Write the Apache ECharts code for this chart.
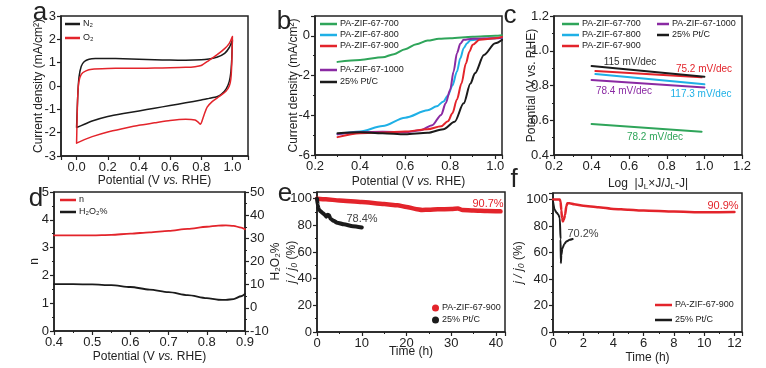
<!DOCTYPE html>
<html><head><meta charset="utf-8">
<script src="https://cdn.jsdelivr.net/npm/echarts@6/dist/echarts.min.js"></script>
<style>html,body{margin:0;padding:0;background:#fff}#c{width:766px;height:368px}</style>
</head><body><div id="c"></div>
<script>
// ---------- data ----------
// (a) cyclic voltammetry loops [potential V, current mA/cm2]
const cvN2 = [[0.0,-1.78],[0.004,-1.0],[0.009,-0.2],[0.016,0.4],[0.03,0.85],[0.05,1.05],[0.08,1.15],[0.12,1.18],[0.2,1.18],[0.3,1.17],[0.4,1.15],[0.5,1.13],[0.6,1.11],[0.7,1.1],[0.8,1.12],[0.85,1.16],[0.9,1.23],[0.95,1.4],[0.98,1.65],[1.0,1.97],
  [0.996,1.2],[0.99,0.6],[0.98,0.2],[0.96,-0.12],[0.93,-0.35],[0.9,-0.46],[0.85,-0.53],[0.8,-0.6],[0.7,-0.72],[0.6,-0.84],[0.5,-0.95],[0.4,-1.07],[0.3,-1.18],[0.2,-1.31],[0.1,-1.5],[0.05,-1.64],[0.0,-1.78]];
const cvO2 = [[0.0,-2.45],[0.003,-1.5],[0.007,-0.5],[0.014,0.15],[0.03,0.5],[0.06,0.65],[0.1,0.72],[0.2,0.75],[0.3,0.76],[0.4,0.76],[0.5,0.77],[0.6,0.78],[0.7,0.8],[0.76,0.83],[0.8,0.88],[0.85,1.1],[0.9,1.33],[0.95,1.6],[0.98,1.83],[1.0,2.12],
  [0.996,1.0],[0.99,0.3],[0.98,0.0],[0.957,-0.24],[0.913,-0.46],[0.87,-0.67],[0.838,-0.91],[0.818,-1.24],[0.805,-1.5],[0.795,-1.64],[0.78,-1.55],[0.76,-1.46],[0.7,-1.43],[0.6,-1.48],[0.5,-1.58],[0.4,-1.68],[0.3,-1.82],[0.2,-1.97],[0.1,-2.17],[0.05,-2.3],[0.0,-2.45]];

// (b) LSV curves [potential V, current mA/cm2]
const lsv700 = [[0.3,-1.31],[0.4,-1.21],[0.5,-1.08],[0.55,-0.92],[0.6,-0.67],[0.65,-0.42],[0.7,-0.24],[0.75,-0.15],[0.8,-0.12],[0.9,-0.05],[1.0,0.0],[1.03,0.03]];
const lsv800 = [[0.3,-4.95],[0.4,-4.82],[0.5,-4.54],[0.6,-4.12],[0.7,-3.75],[0.74,-3.55],[0.77,-3.3],[0.79,-3.0],[0.81,-2.5],[0.83,-1.8],[0.845,-1.13],[0.86,-0.62],[0.875,-0.37],[0.89,-0.22],[0.95,-0.15],[1.0,-0.12],[1.03,-0.08]];
const lsv900 = [[0.3,-5.1],[0.4,-4.9],[0.5,-4.87],[0.6,-4.82],[0.7,-4.7],[0.76,-4.55],[0.79,-4.3],[0.81,-3.9],[0.83,-3.2],[0.85,-2.4],[0.87,-1.38],[0.885,-0.8],[0.9,-0.45],[0.93,-0.2],[1.0,-0.12],[1.03,-0.05]];
const lsv1000 = [[0.3,-4.95],[0.4,-4.85],[0.5,-4.83],[0.6,-4.85],[0.67,-4.75],[0.72,-4.5],[0.76,-3.98],[0.78,-3.4],[0.8,-2.72],[0.815,-1.8],[0.83,-0.87],[0.845,-0.4],[0.86,-0.2],[0.9,-0.14],[1.0,-0.12],[1.03,-0.09]];
const lsvPt = [[0.3,-4.9],[0.4,-4.85],[0.5,-4.9],[0.6,-4.96],[0.7,-4.88],[0.77,-4.7],[0.82,-4.32],[0.86,-3.4],[0.89,-2.4],[0.91,-1.88],[0.95,-0.96],[1.0,-0.37],[1.03,-0.2]];

// (c) Tafel lines [log term, potential V]
const taf700 = [[0.4,0.578],[0.985,0.534]];
const taf800 = [[0.42,0.866],[1.0,0.807]];
const taf900 = [[0.42,0.883],[0.985,0.847]];
const taf1000 = [[0.4,0.831],[1.0,0.789]];
const tafPt = [[0.4,0.912],[1.0,0.851]];
const tafNotes = ['115 mV/dec','75.2 mV/dec','78.4 mV/dec','117.3 mV/dec','78.2 mV/dec'];

// (d) electron transfer number and H2O2 yield
const dN = [[0.4,3.44],[0.45,3.44],[0.5,3.44],[0.55,3.46],[0.6,3.5],[0.65,3.55],[0.7,3.6],[0.75,3.67],[0.8,3.75],[0.83,3.79],[0.85,3.8],[0.87,3.78],[0.89,3.72],[0.9,3.66]];
const dH2O2 = [[0.4,10.2],[0.45,10.2],[0.5,10.1],[0.55,9.8],[0.6,9.0],[0.65,7.9],[0.7,6.8],[0.75,5.5],[0.8,4.2],[0.83,3.5],[0.85,3.4],[0.87,3.8],[0.89,5.0],[0.9,6.0]];

// (e) chronoamperometry [time h, j/j0 %]
const ePA = [[0,100],[2,99.5],[5,98.7],[10,97.5],[15,96],[18,95],[20,93.8],[22,92.3],[23.5,91.5],[25,91.7],[27,92],[30,92.2],[31.5,92.6],[32.5,91.5],[35,91.2],[38,90.8],[41,90.5]];
const ePt = [[0,100],[0.15,95],[0.4,92],[0.8,90.5],[1.2,89.5],[1.7,88],[2.1,86.5],[2.4,88],[2.7,87.5],[3,85],[3.7,83.4],[4.5,82],[6,80.8],[8,79.3],[10,78.4]];
const eNotes = ['90.7%','78.4%'];

// (f) methanol tolerance [time h, j/j0 %]
const fPA = [[0,100],[0.45,100],[0.5,98.5],[0.55,92],[0.6,86],[0.65,83.5],[0.72,85],[0.8,88.5],[0.88,95],[0.95,97.2],[1.1,97.3],[1.4,96.5],[2,95.4],[3,94.3],[4,93],[5,92.3],[6,91.8],[8,91],[10,90.4],[12,90.6]];
const fPt = [[0,98.7],[0.1,92.5],[0.25,90],[0.35,88.8],[0.45,86],[0.5,70],[0.52,52],[0.55,58],[0.62,63],[0.75,66.5],[0.9,68.5],[1.1,69.6],[1.3,70.2]];
const fNotes = ['90.9%','70.2%'];

// ---------- styling ----------
const FONT = 'Liberation Sans, Arial, sans-serif';
const INK = '#222';
const RED = '#e3242b', BLACK = '#1b1b1b', GREEN = '#2fa55a', CYAN = '#1fb0e6', PURPLE = '#8a2aa3';

function fmt(step, dec) {
  return function (v) { const k = v / step; return Math.abs(k - Math.round(k)) < 1e-6 ? v.toFixed(dec) : ''; };
}
const nameStyle = {
  fontSize: 12, color: INK, fontFamily: FONT,
  rich: {
    i: { fontSize: 12, color: INK, fontFamily: FONT, fontStyle: 'italic' },
    s: { fontSize: 8, color: INK, fontFamily: FONT, verticalAlign: 'bottom', padding: [6, 0, 0, 0] }
  }
};
function axis(o) {
  const a = {
    type: 'value', gridIndex: o.g, min: o.min, max: o.max, position: o.pos,
    axisLine: { show: true, onZero: false, lineStyle: { color: INK, width: 1.5 } },
    axisTick: { show: true, inside: false, length: 4, lineStyle: { color: INK, width: 1.2 } },
    minorTick: { show: !!o.minor, splitNumber: o.minor || 5, length: 2, lineStyle: { color: INK, width: 1 } },
    splitLine: { show: false },
    axisLabel: { fontSize: 13, color: INK, fontFamily: FONT, margin: 5, formatter: fmt(o.step, o.dec) },
    name: o.name, nameLocation: 'middle', nameGap: o.gap, nameTextStyle: nameStyle,
    nameMoveOverlap: false
  };
  if (o.interval) a.interval = o.interval;
  if (o.rot !== undefined) a.nameRotate = o.rot;
  return a;
}
const POT = 'Potential (V {i|vs.} RHE)';
const JJ = '{i|j / j₀} (%)';

const grids = [
  { left: 61, top: 16, width: 187, height: 140 },
  { left: 315, top: 16, width: 187, height: 139 },
  { left: 554, top: 16, width: 188, height: 139 },
  { left: 54, top: 192, width: 191, height: 139 },
  { left: 317, top: 192, width: 188, height: 140 },
  { left: 553, top: 193, width: 189, height: 139 }
].map(g => Object.assign({ show: true, borderColor: INK, borderWidth: 1.5, backgroundColor: 'transparent' }, g));

const xAxes = [
  axis({ g: 0, min: -0.1, max: 1.1, step: 0.2, dec: 1, name: POT, gap: 19 }),
  axis({ g: 1, min: 0.2, max: 1.03, interval: 0.2, step: 0.2, dec: 1, minor: 2, name: POT, gap: 21 }),
  axis({ g: 2, min: 0.2, max: 1.2, interval: 0.2, step: 0.2, dec: 1, minor: 2, name: 'Log  |J{s|L}×J/J{s|L}-J|', gap: 22 }),
  axis({ g: 3, min: 0.4, max: 0.9, interval: 0.1, step: 0.1, dec: 1, minor: 2, name: POT, gap: 20 }),
  axis({ g: 4, min: 0, max: 42, interval: 10, step: 10, dec: 0, minor: 2, name: 'Time (h)', gap: 14 }),
  axis({ g: 5, min: 0, max: 12.5, interval: 2, step: 2, dec: 0, minor: 2, name: 'Time (h)', gap: 20 })
];
const yAxes = [
  axis({ g: 0, min: -3, max: 3, interval: 1, step: 1, dec: 0, name: 'Current density (mA/cm²)', gap: 16 }),
  axis({ g: 1, min: -6, max: 1, interval: 2, step: 2, dec: 0, minor: 2, name: 'Current density (mA/cm²)', gap: 15 }),
  axis({ g: 2, min: 0.4, max: 1.2, interval: 0.2, step: 0.2, dec: 1, minor: 2, name: 'Potential (V vs. RHE)', gap: 16 }),
  axis({ g: 3, min: 0, max: 5, interval: 1, step: 1, dec: 0, minor: 2, name: 'n', gap: 13 }),
  axis({ g: 4, min: 0, max: 105, interval: 20, step: 20, dec: 0, minor: 2, name: JJ, gap: 19 }),
  axis({ g: 5, min: 0, max: 105, interval: 20, step: 20, dec: 0, minor: 2, name: JJ, gap: 28 }),
  axis({ g: 3, min: -10, max: 50, interval: 10, step: 10, dec: 0, minor: 2, name: 'H₂O₂%', gap: 25, pos: 'right', rot: 90 })
];

function line(name, xi, yi, data, color, width, smooth) {
  return {
    type: 'line', name, xAxisIndex: xi, yAxisIndex: yi, data, symbol: 'none', showSymbol: false,
    smooth: smooth === undefined ? 0.3 : smooth, lineStyle: { color, width, cap: 'round', join: 'round' },
    itemStyle: { color }, emphasis: { disabled: true }, animation: false
  };
}
const series = [
  line('N₂|a', 0, 0, cvN2, BLACK, 1.5, 0.2),
  line('O₂|a', 0, 0, cvO2, RED, 1.5, 0.2),
  line('PA-ZIF-67-700|b', 1, 1, lsv700, GREEN, 2),
  line('PA-ZIF-67-800|b', 1, 1, lsv800, CYAN, 2),
  line('PA-ZIF-67-1000|b', 1, 1, lsv1000, PURPLE, 2),
  line('PA-ZIF-67-900|b', 1, 1, lsv900, RED, 2),
  line('25% Pt/C|b', 1, 1, lsvPt, BLACK, 2),
  line('PA-ZIF-67-700|c', 2, 2, taf700, GREEN, 2, false),
  line('PA-ZIF-67-800|c', 2, 2, taf800, CYAN, 2, false),
  line('PA-ZIF-67-900|c', 2, 2, taf900, RED, 2, false),
  line('PA-ZIF-67-1000|c', 2, 2, taf1000, PURPLE, 2, false),
  line('25% Pt/C|c', 2, 2, tafPt, BLACK, 2, false),
  line('n|d', 3, 3, dN, RED, 1.8),
  line('H₂O₂%|d', 3, 6, dH2O2, BLACK, 1.8),
  line('PA-ZIF-67-900|e', 4, 4, ePA, RED, 4.5, 0.2),
  line('25% Pt/C|e', 4, 4, ePt, BLACK, 4, 0.2),
  line('PA-ZIF-67-900|f', 5, 5, fPA, RED, 2.5, 0.2),
  line('25% Pt/C|f', 5, 5, fPt, BLACK, 2, 0.2)
];
series.forEach(s => { s.smoothMonotone = s.xAxisIndex === 0 ? undefined : 'x'; });

function legend(names, left, top, gap, icon, w, h) {
  return {
    orient: 'vertical', left, top, padding: 0, itemGap: gap, data: names,
    icon: icon || 'rect', itemWidth: w || 17, itemHeight: h || 2.5, selectedMode: false,
    formatter: n => n.split('|')[0],
    textStyle: { fontSize: 9, color: INK, fontFamily: FONT, lineHeight: 10, padding: [0, 0, 0, -2] }
  };
}
const legends = [
  legend(['N₂|a', 'O₂|a'], 65, 19, 4, 'rect', 15),
  legend(['PA-ZIF-67-700|b', 'PA-ZIF-67-800|b', 'PA-ZIF-67-900|b'], 320, 19, 1),
  legend(['PA-ZIF-67-1000|b', '25% Pt/C|b'], 320, 65, 2),
  legend(['PA-ZIF-67-700|c', 'PA-ZIF-67-800|c', 'PA-ZIF-67-900|c'], 562, 19, 1),
  legend(['PA-ZIF-67-1000|c', '25% Pt/C|c'], 657, 19, 1, 'rect', 12),
  legend(['n|d', 'H₂O₂%|d'], 60, 195, 2, 'rect', 16),
  legend(['PA-ZIF-67-900|e', '25% Pt/C|e'], 432, 303, 2, 'circle', 7, 7),
  legend(['PA-ZIF-67-900|f', '25% Pt/C|f'], 655, 300, 5)
];

function txt(text, x, y, color, size) {
  return { type: 'text', silent: true, style: { text, x, y, fill: color, fontSize: size, fontFamily: FONT, align: 'center', verticalAlign: 'middle' } };
}
const graphics = [
  txt('a', 40, 13, INK, 26), txt('b', 284, 22, INK, 26), txt('c', 510, 16, INK, 26),
  txt('d', 36, 199, INK, 26), txt('e', 285, 194, INK, 26), txt('f', 514, 180, INK, 26),
  txt(tafNotes[0], 630, 62, '#333', 10), txt(tafNotes[1], 704, 69, RED, 10),
  txt(tafNotes[2], 624, 91, PURPLE, 10), txt(tafNotes[3], 701, 94, CYAN, 10),
  txt(tafNotes[4], 655, 137, GREEN, 10),
  txt(eNotes[0], 488, 204, RED, 11), txt(eNotes[1], 362, 219, '#444', 11),
  txt(fNotes[0], 723, 206, RED, 11), txt(fNotes[1], 583, 234, '#444', 11)
];

const chart = echarts.init(document.getElementById('c'), null, { renderer: 'canvas' });
chart.setOption({
  backgroundColor: '#fff', animation: false,
  textStyle: { fontFamily: FONT },
  grid: grids, xAxis: xAxes, yAxis: yAxes, series, legend: legends, graphic: graphics,
  tooltip: { show: false }
});
</script></body></html>
